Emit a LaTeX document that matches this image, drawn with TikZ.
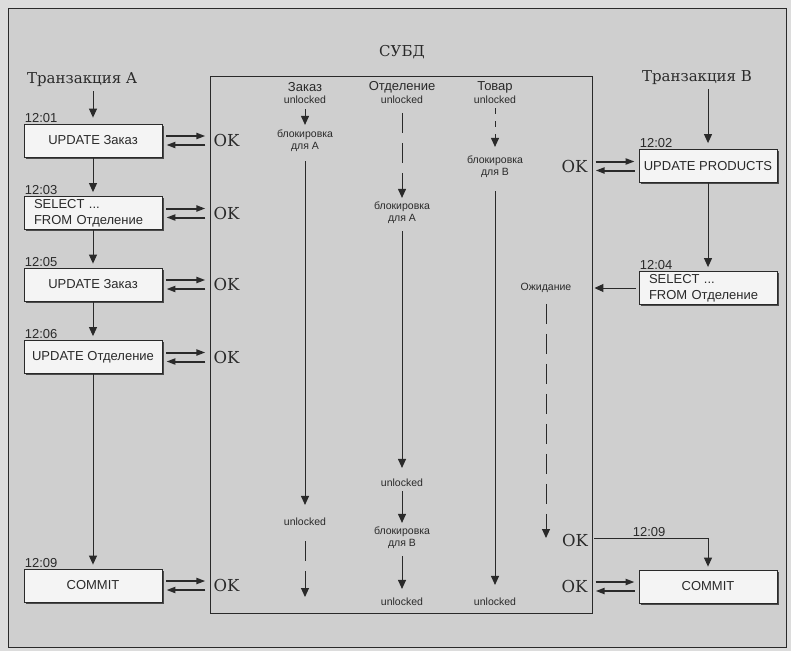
\documentclass[tikz,border=0pt]{standalone}
\usepackage{fontspec}
\setsansfont{Liberation Sans}
\newfontfamily\oldserif{DejaVu Serif}
\usepackage{xcolor}
\definecolor{ink}{HTML}{2A2A2A}
\definecolor{paper}{HTML}{CFCFCF}
\definecolor{margin}{HTML}{DCDCDC}
\definecolor{boxfill}{HTML}{F4F4F4}
\usetikzlibrary{positioning,calc,arrows.meta,shadows}

\begin{document}
\begin{tikzpicture}[x=1pt,y=-1pt,ink,
  txn/.style={font=\oldserif\fontsize{15}{17}\selectfont,inner sep=1pt},
  ok/.style={font=\oldserif\fontsize{16.5}{18}\selectfont,inner sep=2pt},
  op/.style={draw,fill=boxfill,line width=0.8pt,minimum width=138pt,minimum height=33pt,
    font=\sffamily\fontsize{13}{16}\selectfont,
    drop shadow={shadow xshift=1.5pt,shadow yshift=-1.5pt,fill=ink,opacity=0.8}},
  opl/.style={op,text width=118pt,align=left,inner xsep=10pt,inner ysep=2pt},
  stamp/.style={font=\sffamily\fontsize{13}{15}\selectfont,anchor=south west,inner sep=1pt},
  hdr/.style={font=\sffamily\fontsize{13}{15}\selectfont,inner sep=1pt},
  lbl/.style={font=\sffamily\fontsize{10.5}{12}\selectfont,align=center,inner sep=1pt},
  arr/.style={-{Triangle[length=9pt,width=8pt]},line width=1pt},
  dbl/.style={-{Triangle[length=9pt,width=6pt]},line width=2pt},
  lk/.style={arr,shorten <=4pt,shorten >=4pt},
  pend/.style={dash pattern=on 20pt off 10pt}]

  \fill[margin] (0,0) rectangle (791,651);
  \filldraw[fill=paper,draw=ink,line width=1pt] (8,8) rectangle (786,647);

  \node[txn] (dbmst) at (402,52) {СУБД};
  \draw[line width=0.6pt] (210,76) rectangle (592,613);

  \node[txn] (ta) at (82,80) {Транзакция A};
  \node[op] (a1) at (93,140.5) {UPDATE Заказ};
  \node[opl] (a2) at (93,213) {SELECT ...\\FROM Отделение};
  \node[op] (a3) at (93,284.5) {UPDATE Заказ};
  \node[op] (a4) at (93,357) {UPDATE Отделение};
  \node[op] (a5) at (93,585.5) {COMMIT};
  \node[stamp] (t1) at (a1.north west) {12:01};
  \node[stamp] (t3) at (a2.north west) {12:03};
  \node[stamp] (t5) at (a3.north west) {12:05};
  \node[stamp] (t6) at (a4.north west) {12:06};
  \node[stamp] (t9) at (a5.north west) {12:09};
  \draw[arr,shorten <=3pt,shorten >=6pt] (ta.south -| a1.north) -- (a1.north);
  \foreach \u/\v in {a1/a2,a2/a3,a3/a4,a4/a5}
    \draw[arr,shorten >=4pt] (\u) -- (\v);

  \foreach \b/\o in {a1/ok1,a2/ok2,a3/ok3,a4/ok4,a5/ok5}{
    \node[ok,right=49pt of \b] (\o) {OK};
    \draw[dbl,shorten <=4pt,shorten >=6pt] ([yshift=4.5pt]\b.east) -- ([yshift=4.5pt]\o.west);
    \draw[dbl,shorten <=6pt,shorten >=4pt] ([yshift=-4.5pt]\o.west) -- ([yshift=-4.5pt]\b.east);
  }

  \node[txn] (tb) at (697,78) {Транзакция B};
  \node[op] (b1) at (708,166) {UPDATE PRODUCTS};
  \node[opl] (b2) at (708,288) {SELECT ...\\FROM Отделение};
  \node[op] (b3) at (708,586.5) {COMMIT};
  \node[stamp] (t2) at (b1.north west) {12:02};
  \node[stamp] (t4) at (b2.north west) {12:04};
  \draw[arr,shorten <=3pt,shorten >=6pt] (tb.south -| b1.north) -- (b1.north);
  \draw[arr,shorten >=4pt] (b1) -- (b2);

  \foreach \b/\o in {b1/okb1,b3/okb3}{
    \node[ok,left=49pt of \b] (\o) {OK};
    \draw[dbl,shorten <=6pt,shorten >=4pt] ([yshift=4.5pt]\o.east) -- ([yshift=4.5pt]\b.west);
    \draw[dbl,shorten <=4pt,shorten >=6pt] ([yshift=-4.5pt]\b.west) -- ([yshift=-4.5pt]\o.east);
  }

  \node[hdr] (zkt) at (305,87) {Заказ};
  \node[lbl] (zk0) at (305,100) {unlocked};
  \node[lbl] (zk1) at (305,141) {блокировка\\для A};
  \node[lbl] (zk2) at (305,522) {unlocked};
  \coordinate (zk3) at (305,597);
  \draw[lk] (zk0) -- (zk1);
  \draw[lk,shorten <=8pt,shorten >=12pt] (zk1) -- (zk2);
  \draw[arr,pend,shorten <=14pt] (zk2) -- (zk3);

  \node[hdr] (ott) at (402,87) {Отделение};
  \node[lbl] (ot0) at (402,100) {unlocked};
  \node[lbl] (ot1) at (402,213) {блокировка\\для A};
  \node[lbl] (ot2) at (402,483) {unlocked};
  \node[lbl] (ot3) at (402,538) {блокировка\\для B};
  \node[lbl] (ot4) at (402,602) {unlocked};
  \draw[lk,pend,shorten <=8pt,shorten >=3pt] (ot0) -- (ot1);
  \draw[lk,shorten <=6pt,shorten >=10pt] (ot1) -- (ot2);
  \draw[lk,shorten <=3pt,shorten >=3pt] (ot2) -- (ot3);
  \draw[lk,shorten <=6pt,shorten >=8pt] (ot3) -- (ot4);

  \node[hdr] (tvt) at (495,87) {Товар};
  \node[lbl] (tv0) at (495,100) {unlocked};
  \node[lbl] (tv1) at (495,167) {блокировка\\для B};
  \node[lbl] (tv2) at (495,602) {unlocked};
  \draw[lk,dash pattern=on 6pt off 7pt,shorten <=3pt,shorten >=8pt] (tv0) -- (tv1);
  \draw[lk,shorten <=12pt,shorten >=12pt] (tv1) -- (tv2);

  \node[lbl] (wt0) at (546,288) {Ожидание};
  \coordinate (wt1) at (546,538);
  \draw[arr,shorten <=3pt,shorten >=22pt] (b2.west) -- (wt0.east);
  \draw[arr,pend,shorten <=10pt] (wt0) -- (wt1);

  \node[ok] (okw) at (575,540) {OK};
  \draw[arr,shorten <=4pt,shorten >=3pt] ([yshift=2pt]okw.east) -| node[stamp,pos=0.25,anchor=south]{12:09} (b3.north);
\end{tikzpicture}
\end{document}
